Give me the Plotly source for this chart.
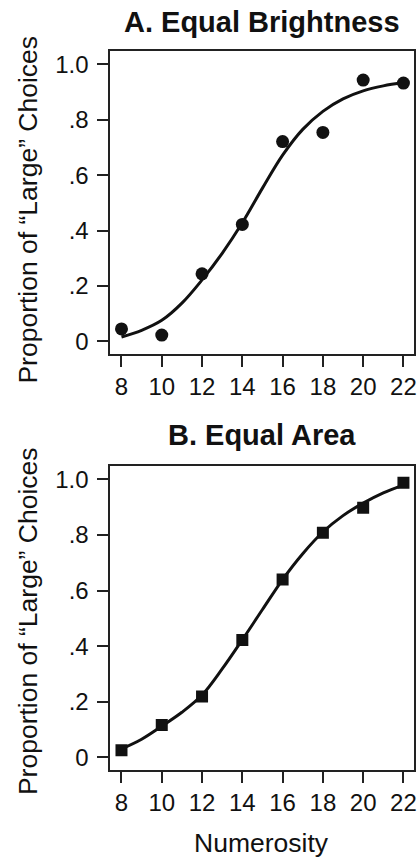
import plotly.graph_objects as go

# Numerosity levels tested
numerosity = [8, 10, 12, 14, 16, 18, 20, 22]

# Observed proportion of "large" choices
brightness_prop = [0.045, 0.023, 0.244, 0.422, 0.721, 0.754, 0.943, 0.932]
area_prop = [0.025, 0.116, 0.219, 0.422, 0.640, 0.808, 0.898, 0.988]

# Fitted psychometric curves, sampled at unit steps
curve_x = [8, 9, 10, 11, 12, 13, 14, 15, 16, 17, 18, 19, 20, 21, 22]
brightness_fit = [0.016, 0.040, 0.076, 0.138, 0.222, 0.318, 0.428, 0.553,
                  0.672, 0.765, 0.830, 0.875, 0.904, 0.922, 0.934]
area_fit = [0.030, 0.065, 0.112, 0.162, 0.224, 0.318, 0.423, 0.532,
            0.640, 0.733, 0.811, 0.870, 0.915, 0.952, 0.980]

y_ticks = [0, 0.2, 0.4, 0.6, 0.8, 1.0]
y_tick_text = ["0", ".2", ".4", ".6", ".8", "1.0"]
x_ticks = numerosity

W, H = 419, 859
FONT = "Liberation Sans, Arial, Helvetica, sans-serif"
INK = "#111111"


def px_x(p):
    return p / W


def px_y(p):
    return 1 - p / H


fig = go.Figure()

panels = [
    dict(xa="x", ya="y", pts=brightness_prop, fit=brightness_fit,
         symbol="circle", msize=13),
    dict(xa="x2", ya="y2", pts=area_prop, fit=area_fit,
         symbol="square", msize=12),
]

for p in panels:
    fig.add_trace(go.Scatter(
        x=curve_x, y=p["fit"], mode="lines",
        line=dict(color=INK, width=3, shape="spline", smoothing=1.0),
        xaxis=p["xa"], yaxis=p["ya"], hoverinfo="skip",
    ))
    fig.add_trace(go.Scatter(
        x=numerosity, y=p["pts"], mode="markers",
        marker=dict(symbol=p["symbol"], size=p["msize"], color=INK,
                    line=dict(width=0)),
        xaxis=p["xa"], yaxis=p["ya"],
    ))

x_dom = [px_x(111), px_x(416.7)]
axis_common = dict(
    showline=True, linecolor="#222222", linewidth=1.5, mirror=True,
    ticks="outside", ticklen=11, tickwidth=1.5, tickcolor="#222222",
    showgrid=False, zeroline=False, ticklabeloverflow="allow",
    tickfont=dict(family=FONT, size=24, color=INK),
)

fig.update_layout(
    width=W, height=H,
    margin=dict(l=0, r=0, t=0, b=0),
    paper_bgcolor="white", plot_bgcolor="white",
    showlegend=False,
    xaxis=dict(domain=x_dom, range=[7.44, 22.51], tickvals=x_ticks,
               anchor="y", **axis_common),
    yaxis=dict(domain=[px_y(354.3), px_y(51)], range=[-0.045, 1.048],
               tickvals=y_ticks, ticktext=y_tick_text, anchor="x",
               ticklabelstandoff=4, **axis_common),
    xaxis2=dict(domain=x_dom, range=[7.44, 22.51], tickvals=x_ticks,
                anchor="y2", **axis_common),
    yaxis2=dict(domain=[px_y(770.7), px_y(466.7)], range=[-0.045, 1.048],
                tickvals=y_ticks, ticktext=y_tick_text, anchor="x2",
                ticklabelstandoff=4, **axis_common),
)

cx = px_x((111 + 416.7) / 2)
ann = [
    dict(text="<b>A. Equal Brightness</b>", x=cx, y=px_y(22), size=29),
    dict(text="<b>B. Equal Area</b>", x=cx, y=px_y(436), size=29),
    dict(text="Numerosity", x=cx, y=px_y(844), size=26.5),
]
for a in ann:
    fig.add_annotation(
        text=a["text"], x=a["x"], y=a["y"], xref="paper", yref="paper",
        xanchor="center", yanchor="middle", showarrow=False,
        font=dict(family=FONT, size=a["size"], color=INK),
    )

for yc in (210, 622):
    fig.add_annotation(
        text="Proportion of \u201cLarge\u201d Choices",
        x=px_x(28), y=px_y(yc), xref="paper", yref="paper",
        xanchor="center", yanchor="middle", textangle=-90, showarrow=False,
        font=dict(family=FONT, size=26.5, color=INK),
    )

fig.write_html("out.html")
